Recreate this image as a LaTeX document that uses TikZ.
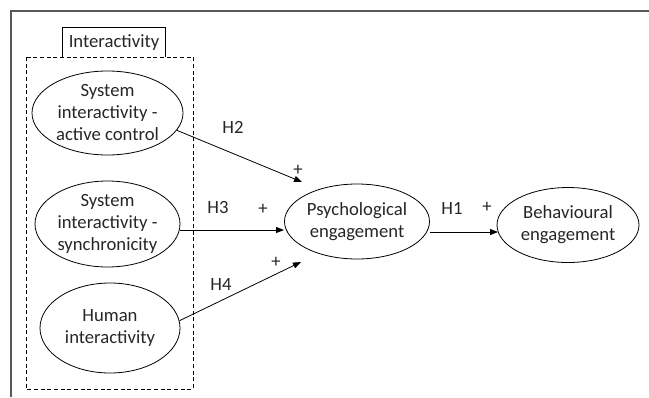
\documentclass[tikz,border=0pt]{standalone}
\usepackage{fontspec}
\setmainfont{Carlito}
\usetikzlibrary{shapes.geometric,arrows.meta}

\tikzset{
  construct/.style={ellipse, draw, align=center, inner sep=0pt, text=black!85, font=\fontsize{14}{16.5}\selectfont},
  hyp/.style={-{Triangle[length=6pt,width=4.5pt]}},
  lbl/.style={inner sep=0.75pt, text=black!85, font=\fontsize{14}{16.5}\selectfont}
}

\begin{document}
\begin{tikzpicture}[x=0.75pt,y=0.75pt,yscale=-1,xscale=1,line width=0.6pt]
\useasboundingbox (0,0) rectangle (649,397);

%Frame
\draw [black!65, line width=0.8pt] (11,397) -- (11,11) -- (649,11) ;

%Shape: Dashed group box
\draw [dashed, dash pattern=on 3pt off 2pt] (26,57) rectangle (193,389) ;
% Tab of the group
\node [lbl, minimum width=76.5pt, minimum height=21.75pt, inner sep=0pt] (tab) at (114,42.5) {Interactivity};
\draw (tab.south west) -- (tab.north west) -- (tab.north east) -- (tab.south east) ;

%Shape: Ellipses
\node [construct, minimum width=113.25pt, minimum height=63pt] (active) at (107.5,113) {System\\interactivity -\\active control};
\node [construct, minimum width=108.75pt, minimum height=64.5pt] (sync) at (107.5,224) {System\\interactivity -\\synchronicity};
\node [construct, minimum width=105pt, minimum height=67.5pt] (human) at (110,328) {Human\\interactivity};
\node [construct, minimum width=108.75pt, minimum height=56.25pt] (psych) at (357,221.5) {Psychological\\engagement};
\node [construct, minimum width=106.5pt, minimum height=56.25pt] (behav) at (568,225) {Behavioural\\engagement};

% Arrow ends
\coordinate (h2end) at (302,182);
\coordinate (h3end) at (284,230);
\coordinate (h4end) at (301,262);
\coordinate (h1end) at (498,232);

%Straight Lines
\draw [hyp] (active.-14) -- (h2end) ;
\draw [hyp] (sync.east |- h3end) -- (h3end) ;
\draw [hyp] (human.6) -- (h4end) ;
\draw [hyp] (psych.east |- h1end) -- (h1end) ;

% Text Node
\node [lbl] (h2) at (233,127.5) {H2};
\node [lbl] (p2) at (298,170) {+};
\node [lbl] (h3) at (218,207.5) {H3};
\node [lbl] (p3) at (263,209) {+};
\node [lbl] (h4) at (221,284.5) {H4};
\node [lbl] (p4) at (276,262) {+};
\node [lbl] (h1) at (452,208) {H1};
\node [lbl] (p1) at (487,207) {+};

\end{tikzpicture}
\end{document}
